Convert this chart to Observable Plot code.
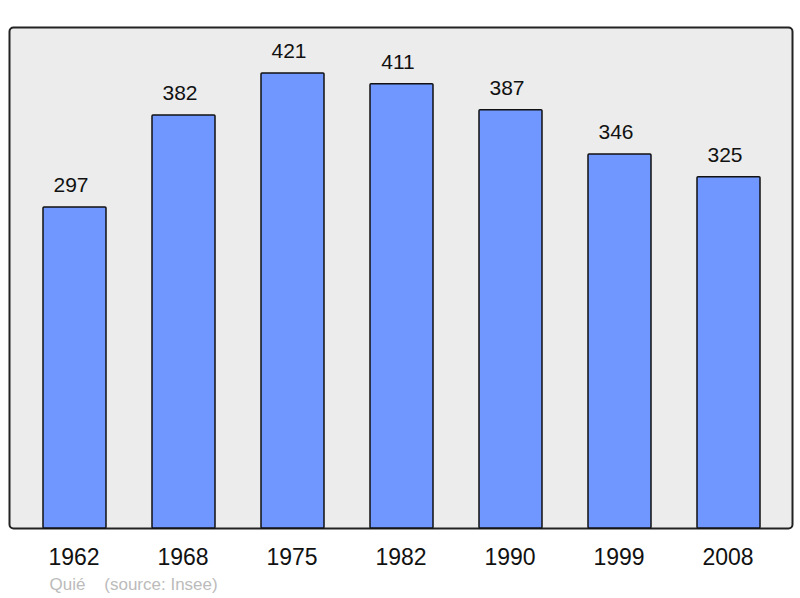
<!DOCTYPE html>
<html><head><meta charset="utf-8">
<script src="https://cdn.jsdelivr.net/npm/d3@7"></script>
<script src="https://cdn.jsdelivr.net/npm/@observablehq/plot@0.6"></script>
<style>body{margin:0;background:#fff;font-family:"Liberation Sans",Arial,sans-serif}</style>
</head><body><div id="chart"></div>
<script>
const years = ["1962","1968","1975","1982","1990","1999","2008"];
const population = [297,382,421,411,387,346,325];
const caption = "Quié    (source: Insee)";
const data = years.map((y,i)=>({year:y, pop:population[i]}));

const chart = Plot.plot({
  width: 800, height: 598,
  marginLeft: 9, marginRight: 8, marginTop: 27, marginBottom: 70,
  style: {fontFamily: '"Liberation Sans", Arial, sans-serif', background: "#fff", overflow: "visible"},
  x: {domain: years, range: [42, 761], paddingInner: 0.424, paddingOuter: 0, align: 0.5, label: null},
  y: {domain: [0, 463.5], range: [528, 27], axis: null},
  marks: [
    Plot.frame({fill: "#ececec", stroke: "#222", strokeWidth: 2, rx: 4}),
    Plot.barY(data, {x: "year", y: "pop", fill: "#7096ff", stroke: "#111", strokeWidth: 1.5, rx: 1}),
    Plot.text(data, {x: "year", y: "pop", text: d => String(d.pop), dx: -4, dy: -22, fontSize: 21, fill: "#111"}),
    Plot.axisX({tickSize: 0, tickPadding: 20, dx: -1, fontSize: 23, fill: "#111", label: null}),
    Plot.text([caption], {frameAnchor: "bottom-left", dx: 40, dy: 61, text: d => d, fontSize: 17, fill: "#bbb", textAnchor: "start"})
  ]
});
document.getElementById("chart").appendChild(chart);
</script></body></html>
